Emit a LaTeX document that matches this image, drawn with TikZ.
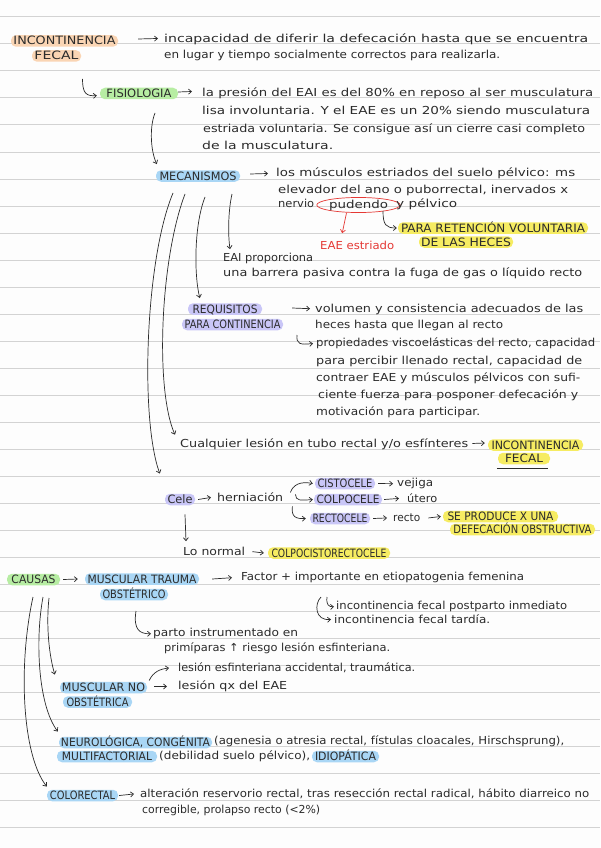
\documentclass[tikz,border=0pt]{standalone}
\usepackage{fontspec}
\setmainfont{DejaVu Sans}
\usepackage{graphicx}
\usetikzlibrary{arrows.meta,shapes.geometric}
\definecolor{ink}{HTML}{2B2B2B}
\definecolor{rulec}{HTML}{D3D3D3}
\definecolor{paper}{HTML}{FDFDFD}
\definecolor{hlorange}{HTML}{FAD5B4}
\definecolor{hlgreen}{HTML}{B7EDA3}
\definecolor{hlblue}{HTML}{A9D6F5}
\definecolor{hlpurple}{HTML}{C9C6F7}
\definecolor{hlyellow}{HTML}{F6EC62}
\definecolor{redink}{HTML}{E53935}
\tikzset{
  txt/.style={anchor=mid west, inner sep=0pt, text=ink, font=\fontsize{11}{13}\selectfont},
  hl/.style={fill=#1, rounded corners=5pt, inner sep=0pt, minimum height=11.5pt,
             text height=8pt, text depth=0pt, text=ink, font=\fontsize{11.5}{12}\selectfont},
  arr/.style={draw=ink, line width=0.7pt, -{Straight Barb[length=3pt,width=5pt]}},
  redarr/.style={draw=redink, line width=0.7pt, -{Straight Barb[length=3pt,width=5pt]}},
  rulestyle/.style={draw=rulec, line width=1pt}
}
\newcommand\TX[5]{\node[txt] (#1) at (#2,#4) {\resizebox{\dimexpr #3pt-#2pt\relax}{\height}{#5}};}
\newcommand\HL[8]{\node[hl=#2, minimum width={#4pt-#3pt}] (#1) at ({(#3+#4)/2},#5) {\resizebox{\dimexpr #7pt-#6pt\relax}{\height}{#8}};}
\begin{document}
\begin{tikzpicture}[x=1pt,y=-1pt]
\useasboundingbox (0,0) rectangle (600,848);
\fill[paper] (0,0) rectangle (600,848);
\foreach \k in {0,...,30} \draw[rulestyle] (0,{17+27*\k}) -- (600,{17+27*\k});

% highlighted labels
\HL{H1}{hlorange}{11}{118}{41}{15}{117}{INCONTINENCIA}
\HL{H2}{hlorange}{32}{81}{56}{36}{80}{FECAL}
\HL{H3}{hlgreen}{100}{178}{93.5}{105}{170}{FISIOLOGIA}
\HL{H4}{hlblue}{156}{240}{176}{160}{237}{MECANISMOS}
\HL{H5}{hlyellow}{398}{588}{228}{401}{585}{PARA RETENCIÓN VOLUNTARIA}
\HL{H6}{hlyellow}{419}{513}{242}{421}{511}{DE LAS HECES}
\HL{H7}{hlpurple}{188}{262}{309}{192}{257}{REQUISITOS}
\HL{H8}{hlpurple}{182}{283}{324.5}{184}{280}{PARA CONTINENCIA}
\HL{H9}{hlyellow}{488}{583}{445}{492}{580}{INCONTINENCIA}
\HL{H10}{hlyellow}{498}{550}{458.5}{505}{543}{FECAL}
\HL{H11}{hlpurple}{165}{195}{499.5}{168}{193}{Cele}
\HL{H12}{hlpurple}{315}{375}{483.5}{318}{373}{CISTOCELE}
\HL{H13}{hlpurple}{314}{382}{499.5}{317}{380}{COLPOCELE}
\HL{H14}{hlpurple}{310}{370}{518.5}{313}{368}{RECTOCELE}
\HL{H15}{hlyellow}{443}{558}{516.5}{446}{552}{SE PRODUCE X UNA}
\HL{H16}{hlyellow}{450}{595}{529.5}{455}{593}{DEFECACIÓN OBSTRUCTIVA}
\HL{H17}{hlyellow}{268}{390}{553}{272}{387}{COLPOCISTORECTOCELE}
\HL{H18}{hlgreen}{7}{60}{579.5}{13}{57}{CAUSAS}
\HL{H19}{hlblue}{85}{199}{579}{88}{197}{MUSCULAR TRAUMA}
\HL{H20}{hlblue}{100}{168}{594.5}{102}{165}{OBSTÉTRICO}
\HL{H21}{hlblue}{60}{147}{687.5}{62}{145}{MUSCULAR NO}
\HL{H22}{hlblue}{63}{132}{702}{67}{129}{OBSTÉTRICA}
\HL{H23}{hlblue}{59}{212}{742.5}{61}{210}{NEUROLÓGICA, CONGÉNITA}
\HL{H24}{hlblue}{57}{157}{756.5}{63}{153}{MULTIFACTORIAL}
\HL{H25}{hlblue}{312}{379}{756.5}{316}{377}{IDIOPÁTICA}
\HL{H26}{hlblue}{47}{118}{795.5}{50}{115}{COLORECTAL}

% plain text
\TX{T1}{164}{588}{40}{incapacidad de diferir la defecación hasta que se encuentra}
\TX{T2}{164}{500}{56}{en lugar y tiempo socialmente correctos para realizarla.}
\TX{T3}{202}{593}{94}{la presión del EAI es del 80\% en reposo al ser musculatura}
\TX{T4}{202}{590}{112}{lisa involuntaria. Y el EAE es un 20\% siendo musculatura}
\TX{T5}{203}{585}{130}{estriada voluntaria. Se consigue así un cierre casi completo}
\TX{T6}{202}{333}{147}{de la musculatura.}
\TX{T7}{276}{575}{174}{los músculos estriados del suelo pélvico: ms}
\TX{T8}{278}{568}{191}{elevador del ano o puborrectal, inervados x}
\TX{T9a}{278}{314}{205}{nervio}
\node[draw=redink, line width=0.7pt, ellipse, inner sep=0pt, minimum width=67pt, minimum height=12pt, text=ink, font=\fontsize{11}{13}\selectfont] (pud) at (358.5,205) {\resizebox{59pt}{\height}{pudendo}};
\TX{T9b}{396}{457}{205}{y pélvico}
\node[txt, text=redink] (T10) at (320,247) {\resizebox{74pt}{\height}{EAE estriado}};
\TX{T11}{223}{313}{259}{EAI proporciona}
\TX{T12}{223}{582}{274}{una barrera pasiva contra la fuga de gas o líquido recto}
\TX{T13}{315}{583}{310}{volumen y consistencia adecuados de las}
\TX{T14}{315}{503}{326}{heces hasta que llegan al recto}
\TX{T15}{316}{595}{344}{propiedades viscoelásticas del recto, capacidad}
\TX{T16}{316}{582}{362}{para percibir llenado rectal, capacidad de}
\TX{T17}{316}{580}{379}{contraer EAE y músculos pélvicos con sufi-}
\TX{T18}{318}{578}{396}{ciente fuerza para posponer defecación y}
\TX{T19}{316}{480}{413}{motivación para participar.}
\TX{T20}{180}{468}{445}{Cualquier lesión en tubo rectal y/o esfínteres}
\TX{T21}{217}{283}{499}{herniación}
\TX{T22}{397}{433}{484}{vejiga}
\TX{T23}{407}{437}{500}{útero}
\TX{T24}{393}{420}{519}{recto}
\TX{T25}{183}{245}{553}{Lo normal}
\TX{T26}{241}{524}{578}{Factor + importante en etiopatogenia femenina}
\TX{T27}{336}{567}{607}{incontinencia fecal postparto inmediato}
\TX{T28}{334}{490}{621}{incontinencia fecal tardía.}
\TX{T29}{153}{298}{634}{parto instrumentado en}
\TX{T30}{164}{390}{649}{primíparas ↑ riesgo lesión esfinteriana.}
\TX{T31}{178}{415}{669}{lesión esfinteriana accidental, traumática.}
\TX{T32}{178}{287}{687}{lesión qx del EAE}
\TX{T33}{214}{564}{742}{(agenesia o atresia rectal, fístulas cloacales, Hirschsprung),}
\TX{T34}{159}{310}{757}{(debilidad suelo pélvico),}
\TX{T35}{140}{589}{795}{alteración reservorio rectal, tras resección rectal radical, hábito diarreico no}
\TX{T36}{142}{320}{811}{corregible, prolapso recto (<2\%)}

% free start points
\coordinate (hk1) at (82.5,79);
\coordinate (fm) at (155,113);
\coordinate (hk7) at (383,211);
\coordinate (m1) at (173,193);
\coordinate (m2) at (185,194);
\coordinate (m3) at (205,197);
\coordinate (m4) at (232,194);
\coordinate (hk10) at (297,335);
\coordinate (br1) at (321,597);
\coordinate (br2) at (327,597);
\coordinate (hk25) at (136,611);
\coordinate (k1) at (49,598);
\coordinate (k2) at (43,597);
\coordinate (k3) at (33,597);

% connectors
\draw[arr] ([xshift=20pt,yshift=2pt]H1.east) -- ([xshift=-6pt,yshift=1pt]T1.west);
\draw[arr] (hk1) .. controls (82.5,93) and (86,96.5) .. ([xshift=-3pt,yshift=-2pt]H3.west);
\draw[arr] ([yshift=1.5pt]H3.east) -- ([xshift=-10pt,yshift=2pt]T3.west);
\draw[arr] (fm) .. controls (149,128) and (151,152) .. ([xshift=1pt,yshift=6pt]H4.north west);
\draw[arr] ([xshift=10pt,yshift=2pt]H4.east) -- ([xshift=-8pt]T7.west);
\draw[redarr] ([xshift=-12pt]pud.south) -- ([xshift=-15pt,yshift=8pt]T10.north);
\draw[arr] (hk7) .. controls (383,225) and (386,228) .. ([xshift=-1pt]H5.west);
\draw[arr] (m4) .. controls (228,212) and (228,235) .. ([xshift=7pt,yshift=4pt]T11.north west);
\draw[arr] (m3) .. controls (194,225) and (194,275) .. ([xshift=12pt,yshift=5pt]H7.north west);
\draw[arr] (m2) .. controls (160,260) and (155,390) .. ([xshift=-5pt,yshift=4pt]T20.north west);
\draw[arr] (m1) .. controls (145,260) and (140,420) .. ([xshift=-5pt,yshift=20pt]H11.north west);
\draw[arr] ([xshift=30pt,yshift=1pt]H7.east) -- ([xshift=-5pt,yshift=1pt]T13.west);
\draw[arr] (hk10) .. controls (296,344) and (300,345) .. ([xshift=-3pt]T15.west);
\draw[arr] ([xshift=4pt,yshift=1pt]T20.east) -- ([xshift=-3pt,yshift=2pt]H9.west);
\draw[draw=ink, line width=0.7pt] ([xshift=-1pt,yshift=-4pt]H10.south west) -- ([xshift=-2pt,yshift=-4pt]H10.south east);
\draw[arr] ([xshift=3pt]H11.east) -- ([xshift=-6pt]T21.west);
\draw[arr] ([xshift=7pt,yshift=5pt]T21.east) .. controls (293,485) and (300,481) .. ([xshift=-2pt]H12.west);
\draw[arr] ([xshift=12pt,yshift=3pt]T21.east) .. controls (296,501) and (300,500.5) .. ([xshift=-1pt]H13.west);
\draw[arr] ([xshift=9pt,yshift=-9pt]T21.east) .. controls (291,517) and (296,519) .. ([xshift=-4pt]H14.west);
\draw[arr] ([xshift=3pt]H12.east) -- ([xshift=-4pt]T22.west);
\draw[arr] ([xshift=2pt]H13.east) -- ([xshift=-8pt]T23.west);
\draw[arr] ([xshift=3pt]H14.east) -- ([xshift=-6pt]T24.west);
\draw[arr] ([xshift=8pt]T24.east) -- ([xshift=-2pt]H15.west);
\draw[arr] ([xshift=5pt,yshift=-9pt]H11.south) -- ([xshift=3pt,yshift=6pt]T25.north west);
\draw[arr] ([xshift=7pt]T25.east) -- ([xshift=-4pt]H17.west);
\draw[arr] ([xshift=3pt]H18.east) -- ([xshift=-7pt]H19.west);
\draw[arr] ([xshift=13pt]H19.east) -- ([xshift=-9pt]T26.west);
\draw[arr] (br1) .. controls (314,604) and (315,621) .. ([xshift=-3pt]T28.west);
\draw[arr] (br2) .. controls (326,605) and (329,607) .. ([xshift=-2pt]T27.west);
\draw[arr] (hk25) .. controls (133,630) and (140,634) .. ([xshift=-2pt]T29.west);
\draw[arr] ([xshift=2pt,yshift=7pt]H21.east) .. controls (153,672) and (160,669) .. ([xshift=-9pt]T31.west);
\draw[arr] ([xshift=7pt,yshift=1pt]H21.east) -- ([xshift=-11pt]T32.west);
\draw[arr] (k1) .. controls (46,625) and (49,655) .. ([xshift=-5pt,yshift=7pt]H21.north west);
\draw[arr] (k2) .. controls (35,640) and (38,705) .. ([xshift=-1pt,yshift=5pt]H23.north west);
\draw[arr] (k3) .. controls (18,665) and (22,755) .. ([yshift=3pt]H26.north west);
\draw[arr] ([xshift=1pt]H26.east) -- ([xshift=-6pt]T35.west);
\end{tikzpicture}
\end{document}
